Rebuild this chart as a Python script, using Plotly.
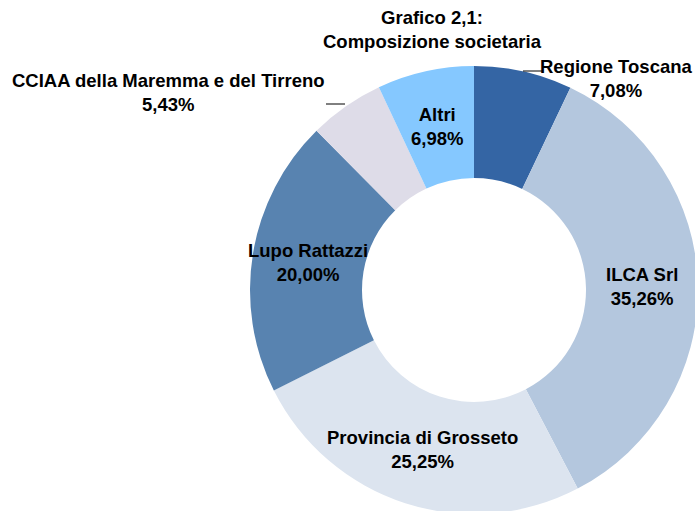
import math
import plotly.graph_objects as go

labels = ["Regione Toscana", "ILCA Srl", "Provincia di Grosseto", "Lupo Rattazzi",
          "CCIAA della Maremma e del Tirreno", "Altri"]
values = [7.08, 35.26, 25.25, 20.00, 5.43, 6.98]
colors = ["#3465A4", "#B4C7DE", "#DCE4EF", "#5883B0", "#DEDCE8", "#85C8FF"]
title_lines = ["Grafico 2,1:", "Composizione societaria"]

# the reference ring is slightly clipped at the right and bottom window edges
W, H = 699, 514
CX, CY, R = 474, 290, 224
HOLE = 0.5
FONT = dict(family="Liberation Sans, Arial, sans-serif", size=18.5, color="#000000")

def fmt(v):
    return f"{v:.2f}".replace(".", ",") + "%"

def px(x, y):
    return x / W, 1 - y / H

fig = go.Figure(go.Pie(
    labels=labels, values=values, sort=False, direction="clockwise", rotation=0,
    hole=HOLE, marker=dict(colors=colors, line=dict(width=0)),
    textinfo="none", hoverinfo="label+percent",
    domain=dict(x=[(CX - R) / W, (CX + R) / W], y=[0, 1 - (CY - R) / H]),
))

annotations = []
shapes = []
total = sum(values)
cum = 0
outside = {
    "Regione Toscana": ((616, 78), (523, 71, 542, 71)),
    "CCIAA della Maremma e del Tirreno": ((168, 92), (326, 104, 345, 104)),
}
rmid = R * (1 + HOLE) / 2
for lab, v in zip(labels, values):
    mid = (cum + v / 2) / total * 2 * math.pi
    cum += v
    text = f"<b>{lab}<br>{fmt(v)}</b>"
    if lab in outside:
        (tx, ty), (x0, y0, x1, y1) = outside[lab]
        a, b = px(x0, y0)
        c, d = px(x1, y1)
        shapes.append(dict(type="line", xref="paper", yref="paper", x0=a, y0=b, x1=c, y1=d,
                           line=dict(color="#000000", width=1)))
    else:
        tx = CX + rmid * math.sin(mid)
        ty = CY - rmid * math.cos(mid)
    ax, ay = px(tx, ty)
    annotations.append(dict(x=ax, y=ay, xref="paper", yref="paper", text=text,
                            showarrow=False, xanchor="center", yanchor="middle",
                            font=FONT, align="center"))

tx, ty = px(432, 29)
annotations.append(dict(x=tx, y=ty, xref="paper", yref="paper",
                        text="<b>" + "<br>".join(title_lines) + "</b>",
                        showarrow=False, xanchor="center", yanchor="middle",
                        font=FONT, align="center"))

fig.update_layout(width=W, height=H, margin=dict(l=0, r=0, t=0, b=0),
                  showlegend=False, paper_bgcolor="white", plot_bgcolor="white",
                  annotations=annotations, shapes=shapes)
fig.write_html("out.html", config={"displayModeBar": False},
               post_script="document.body.style.margin='0';document.body.style.overflow='hidden';")
